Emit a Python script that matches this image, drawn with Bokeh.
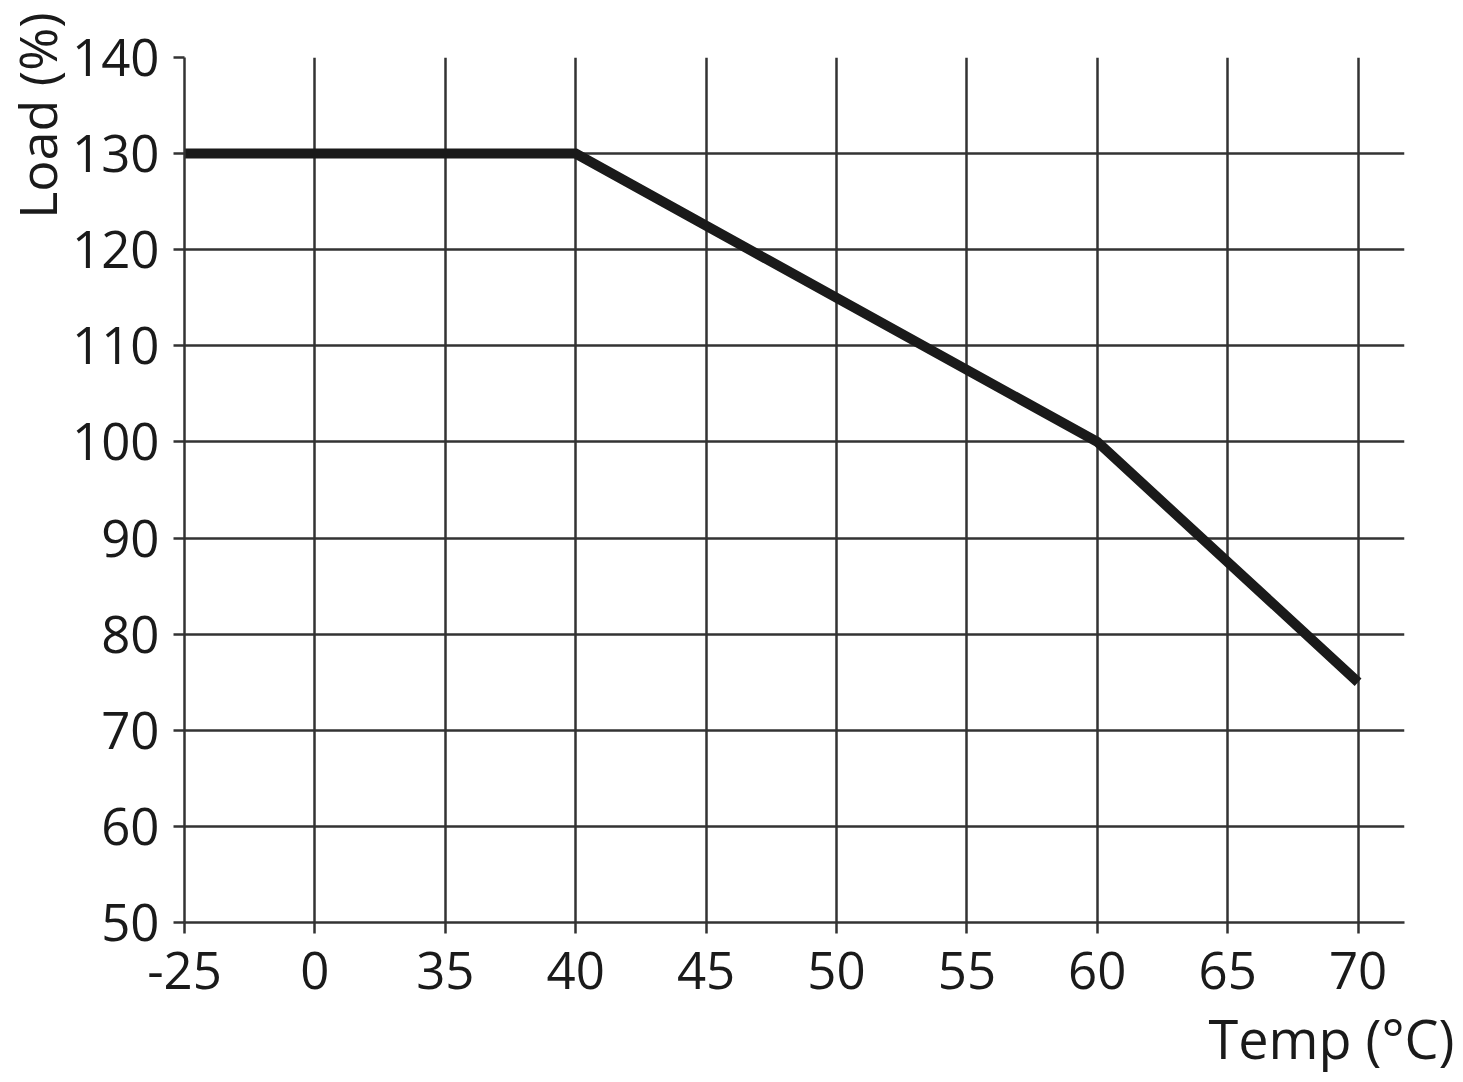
from bokeh.plotting import figure
from bokeh.models import FixedTicker, Range1d, Title
from bokeh.embed import file_html
from bokeh.resources import INLINE

# ---- data ----
temp_labels = ["-25", "0", "35", "40", "45", "50", "55", "60", "65", "70"]
load_ticks = [50, 60, 70, 80, 90, 100, 110, 120, 130, 140]
curve_temps = ["-25", "40", "60", "70"]
curve_loads = [130, 130, 100, 75]

FONT = "Open Sans"
INK = "#1a1a1a"
GRID = "#333333"

p = figure(
    frame_width=1220, frame_height=865,
    min_border_left=175, min_border_top=57, min_border_right=52, min_border_bottom=10,
    x_range=Range1d(0, 9.356), y_range=Range1d(50, 140),
    output_backend="svg", toolbar_location=None,
)
p.outline_line_color = None
p.background_fill_color = "white"
p.border_fill_color = "white"

xs = [temp_labels.index(t) for t in curve_temps]
p.line(xs, curve_loads, line_width=10, line_color=INK, line_join="miter", line_cap="butt")

# axes
p.xaxis.ticker = FixedTicker(ticks=list(range(len(temp_labels))))
p.xaxis.major_label_overrides = {i: t for i, t in enumerate(temp_labels)}
p.yaxis.ticker = FixedTicker(ticks=load_ticks)
for ax in (p.xaxis, p.yaxis):
    ax.axis_line_color = GRID
    ax.axis_line_width = 2.5
    ax.major_tick_line_color = GRID
    ax.major_tick_line_width = 2.5
    ax.major_tick_out = 11
    ax.major_tick_in = 0
    ax.minor_tick_line_color = None
    ax.major_label_text_font = FONT
    ax.major_label_text_font_size = "51px"
    ax.major_label_text_color = INK
p.yaxis.major_label_standoff = 14
p.xaxis.major_label_standoff = 18

p.grid.grid_line_color = GRID
p.grid.grid_line_width = 2.5
p.grid.grid_line_alpha = 1.0
p.xgrid.ticker = FixedTicker(ticks=list(range(len(temp_labels))))
p.ygrid.ticker = FixedTicker(ticks=load_ticks)

# axis titles
p.add_layout(Title(text="Load (%)", align="right", offset=-45, standoff=-4,
                   text_font=FONT, text_font_size="52px", text_font_style="normal",
                   text_color=INK), "left")
p.add_layout(Title(text="Temp (°C)", align="right", offset=-50, standoff=15,
                   text_font=FONT, text_font_size="54px", text_font_style="normal",
                   text_color=INK), "below")

open("out.html", "w").write(file_html(p, INLINE))
